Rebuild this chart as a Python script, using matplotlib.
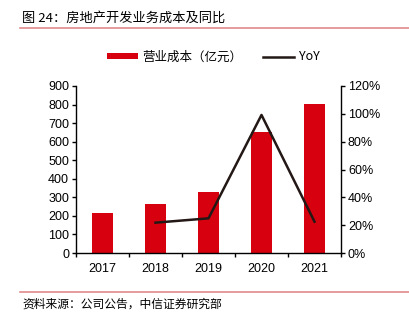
import matplotlib
import matplotlib.pyplot as plt
import numpy as np
from matplotlib.lines import Line2D
from matplotlib.patches import Patch
from matplotlib.ticker import FixedLocator

matplotlib.use("Agg")

plt.rcParams["font.family"] = ["Liberation Sans", "Noto Sans CJK SC", "DejaVu Sans"]

YEARS = ["2017", "2018", "2019", "2020", "2021"]
COST = [214, 262, 327, 652, 803]          # 营业成本（亿元）
YOY_YEARS = ["2018", "2019", "2020", "2021"]
YOY = [21.8, 24.9, 99.2, 22.5]            # %

BAR_RED = "#D7000F"
LINE_DARK = "#231815"
RULE_PINK = "#E08A8A"
CJK = ["Noto Sans CJK SC", "DejaVu Sans"]


def main() -> None:
    fig = plt.figure(figsize=(4.10, 3.23), dpi=100)
    ax = fig.add_axes([76 / 410, 70 / 323, 265 / 410, 167 / 323])
    ax2 = ax.twinx()

    x = np.arange(len(YEARS))
    ax.bar(x, COST, width=0.4, color=BAR_RED, zorder=2)
    ax.set_xlim(-0.5, len(YEARS) - 0.5)
    ax.set_ylim(0, 900)
    ax.set_yticks(np.arange(0, 901, 100))
    ax.set_xticks(x)
    ax.set_xticklabels(YEARS)
    ax.xaxis.set_minor_locator(FixedLocator(np.arange(-0.5, len(YEARS), 1.0)))
    ax.tick_params(axis="x", which="major", length=0, pad=7, labelsize=9)
    ax.tick_params(axis="x", which="minor", length=3, width=1)
    ax.tick_params(axis="y", length=3, width=1, labelsize=9, pad=2)

    yoy_x = [YEARS.index(y) for y in YOY_YEARS]
    ax2.plot(yoy_x, YOY, color=LINE_DARK, linewidth=1.8, zorder=3)
    ax2.set_ylim(0, 120)
    ax2.set_yticks(np.arange(0, 121, 20))
    ax2.set_yticklabels([f"{v}%" for v in range(0, 121, 20)])
    ax2.tick_params(axis="y", length=3, width=1, labelsize=9, pad=2)

    for a in (ax, ax2):
        a.spines["top"].set_visible(False)
        for side in ("left", "right", "bottom"):
            a.spines[side].set_linewidth(1.0)
    ax.spines["right"].set_visible(False)
    ax2.spines["left"].set_visible(False)
    ax2.spines["bottom"].set_visible(False)

    handles = [
        Patch(facecolor=BAR_RED, edgecolor="none"),
        Line2D([], [], color=LINE_DARK, linewidth=1.8),
    ]
    fig.legend(
        handles,
        ["营业成本（亿元）", "YoY"],
        loc="center",
        bbox_to_anchor=(213 / 410, 1 - 57 / 323),
        ncol=2,
        frameon=False,
        handlelength=2.5,
        handleheight=0.45,
        handletextpad=0.35,
        columnspacing=1.65,
        prop={"family": CJK, "size": 9},
    )

    fig.text(22 / 410, 1 - 18 / 323, "图 24：房地产开发业务成本及同比",
             family=CJK, fontsize=9.5, va="center", ha="left")
    fig.add_artist(Line2D([20 / 410, 1.0], [1 - 28 / 323] * 2,
                          color=RULE_PINK, linewidth=1.2))
    fig.add_artist(Line2D([20 / 410, 1.0], [1 - 292 / 323] * 2,
                          color=RULE_PINK, linewidth=1.2))
    fig.text(22 / 410, 1 - 304 / 323, "资料来源：公司公告，中信证券研究部",
             family=CJK, fontsize=8.5, va="center", ha="left")

    fig.savefig("out.png", dpi=100, facecolor="white")
    plt.close(fig)


if __name__ == "__main__":
    main()
